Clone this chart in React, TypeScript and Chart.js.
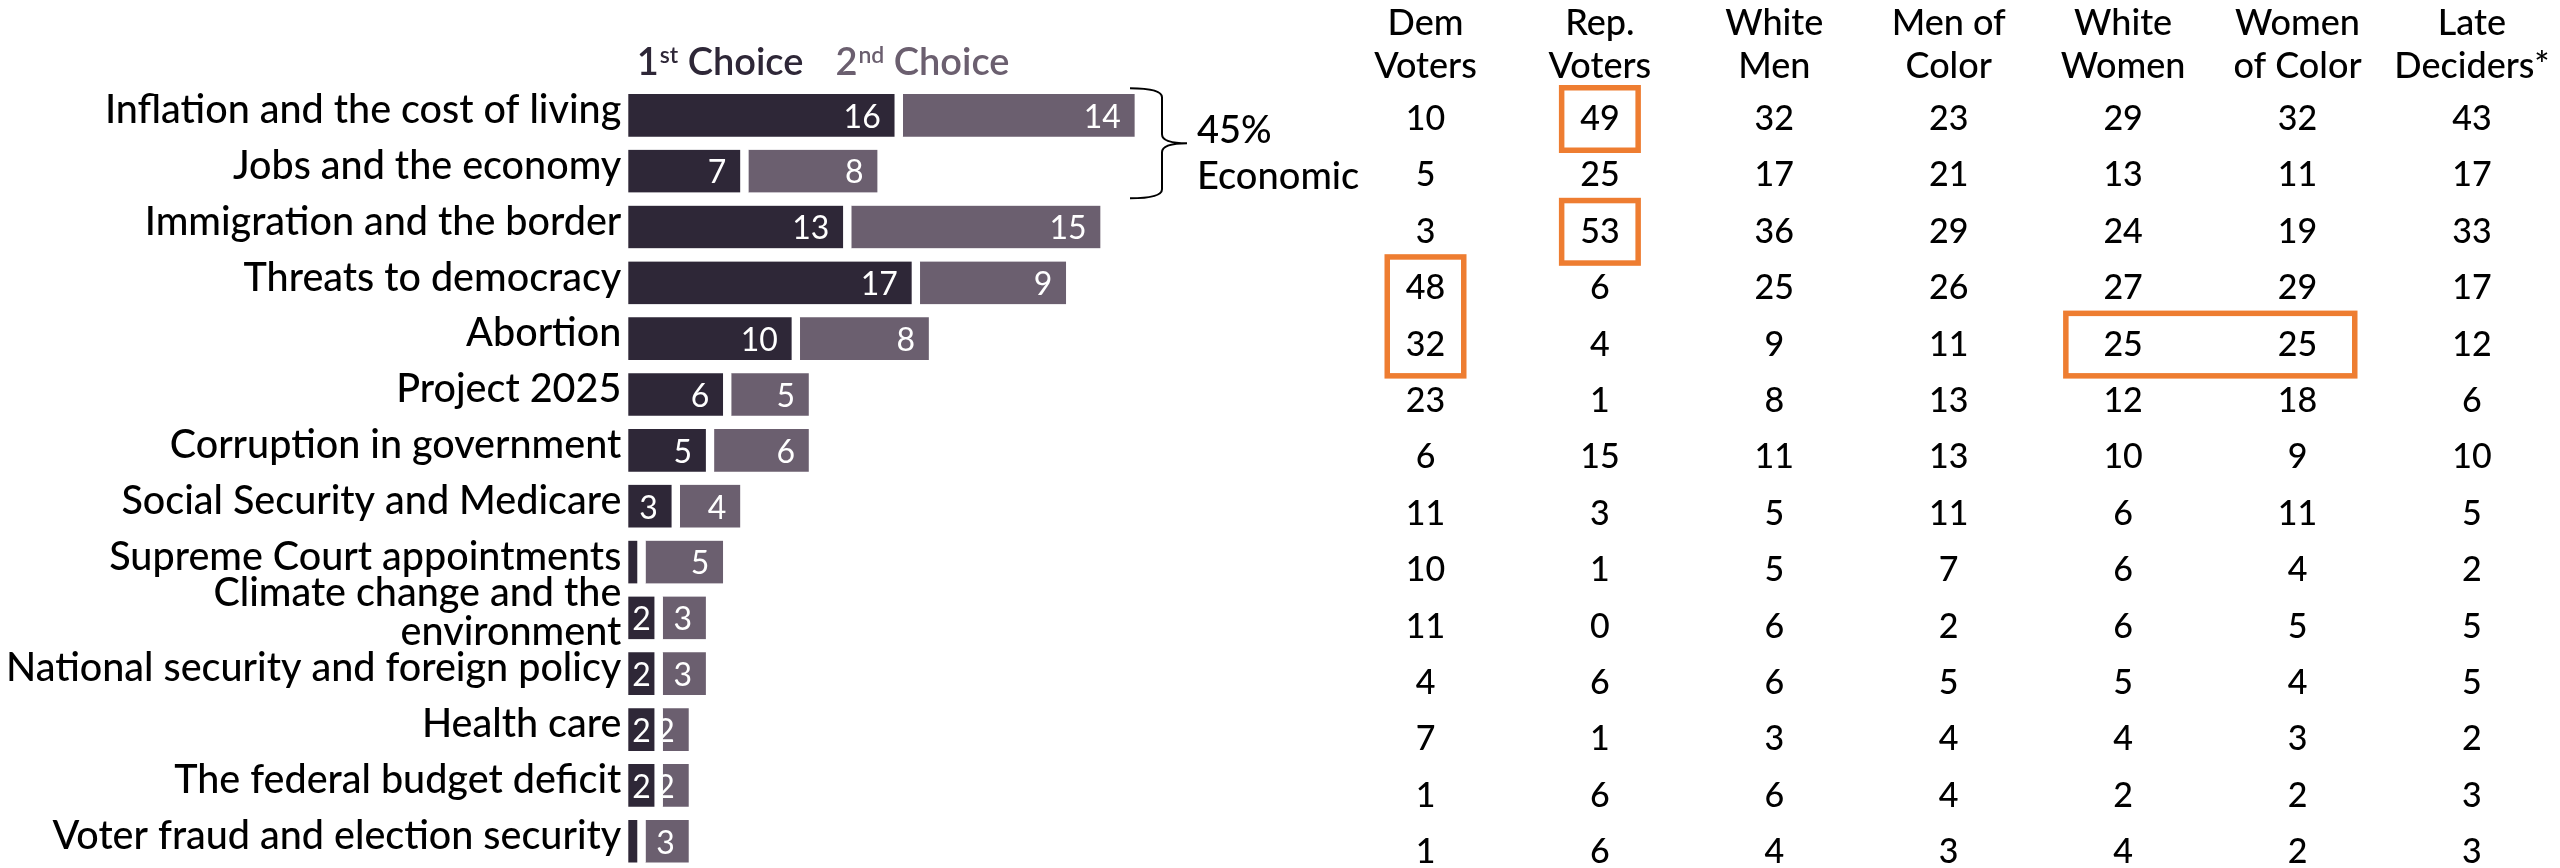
import React, { useEffect, useRef } from 'react';
import { Chart, registerables } from 'chart.js';

Chart.register(...registerables);

// ---------- data ----------
const categories: (string | string[])[] = [
  'Inflation and the cost of living',
  'Jobs and the economy',
  'Immigration and the border',
  'Threats to democracy',
  'Abortion',
  'Project 2025',
  'Corruption in government',
  'Social Security and Medicare',
  'Supreme Court appointments',
  ['Climate change and the', 'environment'],
  'National security and foreign policy',
  'Health care',
  'The federal budget deficit',
  'Voter fraud and election security',
];
const firstChoice = [16, 7, 13, 17, 10, 6, 5, 3, 1, 2, 2, 2, 2, 1];
const secondChoice = [14, 8, 15, 9, 8, 5, 6, 4, 5, 3, 3, 2, 2, 3];

const tableHeaders = [
  ['Dem', 'Voters'],
  ['Rep.', 'Voters'],
  ['White', 'Men'],
  ['Men of', 'Color'],
  ['White', 'Women'],
  ['Women', 'of Color'],
  ['Late', 'Deciders*'],
];
const demVoters = [10, 5, 3, 48, 32, 23, 6, 11, 10, 11, 4, 7, 1, 1];
const repVoters = [49, 25, 53, 6, 4, 1, 15, 3, 1, 0, 6, 1, 6, 6];
const whiteMen = [32, 17, 36, 25, 9, 8, 11, 5, 5, 6, 6, 3, 6, 4];
const menOfColor = [23, 21, 29, 26, 11, 13, 13, 11, 7, 2, 5, 4, 4, 3];
const whiteWomen = [29, 13, 24, 27, 25, 12, 10, 6, 6, 6, 5, 4, 2, 4];
const womenOfColor = [32, 11, 19, 29, 25, 18, 9, 11, 4, 5, 4, 3, 2, 2];
const lateDeciders = [43, 17, 33, 17, 12, 6, 10, 5, 2, 5, 5, 2, 3, 3];
const tableColumns = [demVoters, repVoters, whiteMen, menOfColor, whiteWomen, womenOfColor, lateDeciders];

// highlighted cells: starting row / column and span
const highlightRows = [0, 2, 3, 4];
const highlightCols = [1, 1, 0, 4];
const highlightRowSpans = [1, 1, 2, 1];
const highlightColSpans = [1, 1, 1, 2];

const bracketRows = [0, 1];
const bracketText = ['45%', 'Economic'];
const legendLabels = [
  ['1', 'st', ' Choice'],
  ['2', 'nd', ' Choice'],
];

// ---------- style ----------
const FONT = 'Lato, "Noto Sans", sans-serif';
const C_DARK = '#2E2737';
const C_LIGHT = '#6B5F6F';
const C_ORANGE = '#EE7D31';
const GAP = 8.5;

export default function App() {
  const canvasRef = useRef<HTMLCanvasElement>(null);

  useEffect(() => {
    document.body.style.margin = '0';
    const canvas = canvasRef.current!;

    const valueLabels = {
      id: 'valueLabels',
      afterDatasetsDraw(chart: any) {
        const ctx = chart.ctx as CanvasRenderingContext2D;
        ctx.save();
        ctx.font = `32px ${FONT}`;
        ctx.fillStyle = '#ffffff';
        ctx.textBaseline = 'middle';
        ctx.textAlign = 'left';
        chart.data.datasets.forEach((ds: any, di: number) => {
          const meta = chart.getDatasetMeta(di);
          meta.data.forEach((el: any, i: number) => {
            const v = ds.data[i] as number;
            const start = Math.min(el.base, el.x);
            const end = Math.max(el.base, el.x) - GAP;
            if (end - start < 16) return;
            const text = String(v);
            const w = ctx.measureText(text).width;
            let right = end - 13.5;
            ctx.save();
            if (di === 0) {
              if (right - w < start + 4) right = start + 4 + w;
            } else {
              ctx.beginPath();
              ctx.rect(start, el.y - el.height / 2, end - start, el.height);
              ctx.clip();
            }
            ctx.fillText(text, right - w, el.y + 2);
            ctx.restore();
          });
        });
        ctx.restore();
      },
    };

    const overlay = {
      id: 'overlay',
      afterDraw(chart: any) {
        const ctx = chart.ctx as CanvasRenderingContext2D;
        const yScale = chart.scales.y;
        ctx.save();

        // legend
        const legendColors = [C_DARK, C_LIGHT];
        let lx = 636.7;
        const lBase = 75;
        legendLabels.forEach((parts, li) => {
          ctx.fillStyle = legendColors[li];
          ctx.textBaseline = 'alphabetic';
          ctx.textAlign = 'left';
          ctx.font = `600 38px ${FONT}`;
          ctx.fillText(parts[0], lx, lBase);
          lx += ctx.measureText(parts[0]).width + 1;
          ctx.font = `600 23px ${FONT}`;
          ctx.fillText(parts[1], lx, lBase - 12);
          lx += ctx.measureText(parts[1]).width;
          ctx.font = `600 38px ${FONT}`;
          ctx.fillText(parts[2], lx, lBase);
          lx += ctx.measureText(parts[2]).width + 32;
        });

        // bracket
        const yTop = yScale.getPixelForValue(bracketRows[0]) - 27;
        const yBot = yScale.getPixelForValue(bracketRows[bracketRows.length - 1]) + 27;
        const yMid = (yTop + yBot) / 2;
        const bx0 = 1130, bx1 = 1162, bx2 = 1187;
        ctx.strokeStyle = '#000';
        ctx.lineWidth = 2;
        ctx.beginPath();
        ctx.moveTo(bx0, yTop);
        ctx.quadraticCurveTo(bx1, yTop, bx1, yTop + 9);
        ctx.lineTo(bx1, yMid - 9);
        ctx.quadraticCurveTo(bx1, yMid, bx2, yMid);
        ctx.quadraticCurveTo(bx1, yMid, bx1, yMid + 9);
        ctx.lineTo(bx1, yBot - 9);
        ctx.quadraticCurveTo(bx1, yBot, bx0, yBot);
        ctx.stroke();
        ctx.fillStyle = '#000';
        ctx.font = `500 38px ${FONT}`;
        ctx.textAlign = 'left';
        ctx.textBaseline = 'alphabetic';
        bracketText.forEach((t, k) => ctx.fillText(t, 1197, yMid + k * 46));

        // table
        const colX = (c: number) => 1425.5 + c * 174.4;
        const rowBase = (r: number) => 130 + r * 56.4;
        ctx.textAlign = 'center';
        ctx.font = `500 36px ${FONT}`;
        tableHeaders.forEach((h, c) => {
          ctx.fillText(h[0], colX(c), 35);
          ctx.fillText(h[1], colX(c), 78);
        });
        ctx.font = `500 34px ${FONT}`;
        tableColumns.forEach((col, c) => {
          col.forEach((v, r) => ctx.fillText(String(v), colX(c), rowBase(r)));
        });

        // highlight boxes
        const lw = 5.5;
        ctx.strokeStyle = C_ORANGE;
        ctx.lineWidth = lw;
        highlightRows.forEach((r, k) => {
          const c = highlightCols[k];
          const rs = highlightRowSpans[k];
          const cs = highlightColSpans[k];
          const padX = cs > 1 ? 60 : 41;
          const top = rowBase(r) - 12 - 34 + 1;
          const bot = rowBase(r + rs - 1) - 12 + 34 + 1;
          const left = colX(c) - padX;
          const right = colX(c + cs - 1) + padX;
          ctx.strokeRect(left + lw / 2, top + lw / 2, right - left - lw, bot - top - lw);
        });

        ctx.restore();
      },
    };

    const chart = new Chart(canvas, {
      type: 'bar',
      data: {
        labels: categories as any,
        datasets: [
          {
            label: '1st Choice',
            data: firstChoice,
            backgroundColor: C_DARK,
            borderColor: '#ffffff',
            borderWidth: { top: 0, right: GAP, bottom: 0, left: 0 },
            borderSkipped: false,
            barThickness: 42.7,
            clip: false as any,
          },
          {
            label: '2nd Choice',
            data: secondChoice,
            backgroundColor: C_LIGHT,
            borderColor: '#ffffff',
            borderWidth: { top: 0, right: GAP, bottom: 0, left: 0 },
            borderSkipped: false,
            barThickness: 42.7,
            clip: false as any,
          },
        ],
      },
      options: {
        indexAxis: 'y',
        animation: false,
        responsive: false,
        devicePixelRatio: 1,
        layout: { padding: { top: 115.3, bottom: 25.5, left: 0, right: 1245.7 } },
        plugins: { legend: { display: false }, tooltip: { enabled: false } },
        scales: {
          x: { stacked: true, display: false, min: 0, max: 40 },
          y: {
            stacked: true,
            offset: false,
            grid: { display: false, drawTicks: false },
            border: { display: false },
            ticks: {
              color: '#000',
              font: { family: FONT, size: 39.5, weight: '500', lineHeight: 1.0 },
              padding: 7,
              labelOffset: -5,
              autoSkip: false,
            },
            afterFit(scale: any) {
              scale.width = 628.3;
            },
          },
        },
      } as any,
      plugins: [valueLabels, overlay],
    });

    let alive = true;
    Promise.all([
      document.fonts.load(`38px Lato`),
      document.fonts.load(`500 38px Lato`),
      document.fonts.load(`600 38px Lato`),
    ]).then(() => {
      if (alive) chart.update();
    }).catch(() => {});

    return () => {
      alive = false;
      chart.destroy();
    };
  }, []);

  return (
    <div style={{ width: 2560, height: 868, position: 'relative', background: '#fff' }}>
      <canvas ref={canvasRef} width={2560} height={868} style={{ display: 'block' }} />
    </div>
  );
}
